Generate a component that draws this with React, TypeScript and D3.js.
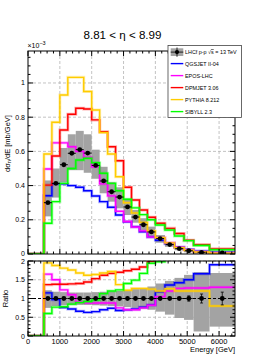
import React from "react"
import * as d3 from "d3"

// bin edges in GeV
const edges = [500, 750, 1000, 1250, 1500, 1750, 2000, 2250, 2500, 2750, 3000, 3250, 3500, 3750, 4000, 4300, 4600, 4900, 5200, 5700, 6500]

// LHCf data, x10^-3 mb/GeV
const dataVal = [0.30, 0.413, 0.522, 0.589, 0.61, 0.59, 0.518, 0.427, 0.364, 0.333, 0.275, 0.216, 0.171, 0.129, 0.09, 0.055, 0.031, 0.019, 0.010, 0.006]
const bandLo = [0.22, 0.33, 0.42, 0.49, 0.49, 0.475, 0.44, 0.355, 0.306, 0.267, 0.228, 0.183, 0.14, 0.10, 0.066, 0.042, 0.022, 0.010, 0.002, 0.0]
const bandHi = [0.43, 0.50, 0.62, 0.70, 0.72, 0.70, 0.61, 0.51, 0.42, 0.39, 0.323, 0.257, 0.209, 0.16, 0.111, 0.07, 0.042, 0.028, 0.016, 0.010]

// model predictions
const qgsjet = [0.341, 0.41, 0.41, 0.40, 0.39, 0.37, 0.339, 0.306, 0.273, 0.228, 0.189, 0.16, 0.13, 0.10, 0.08, 0.06, 0.04, 0.027, 0.017, 0.011]
const epos = [0.497, 0.65, 0.65, 0.627, 0.60, 0.565, 0.51, 0.41, 0.34, 0.25, 0.19, 0.158, 0.135, 0.10, 0.095, 0.066, 0.04, 0.025, 0.013, 0.007]
const dpmjet = [0.403, 0.573, 0.725, 0.817, 0.852, 0.848, 0.784, 0.715, 0.627, 0.545, 0.39, 0.316, 0.257, 0.215, 0.18, 0.15, 0.12, 0.08, 0.055, 0.03]
const pythia = [0.585, 0.77, 0.93, 1.033, 1.033, 0.95, 0.842, 0.71, 0.585, 0.452, 0.30, 0.24, 0.185, 0.135, 0.095, 0.065, 0.037, 0.022, 0.012, 0.004]
const sibyll = [0.18, 0.306, 0.413, 0.50, 0.55, 0.56, 0.534, 0.472, 0.413, 0.37, 0.32, 0.27, 0.23, 0.2, 0.17, 0.14, 0.105, 0.078, 0.05, 0.025]

// ratio panel (model / data)
const ratioLo = [0.75, 0.8, 0.82, 0.83, 0.83, 0.83, 0.82, 0.81, 0.8, 0.79, 0.77, 0.75, 0.73, 0.7, 0.65, 0.57, 0.48, 0.43, 0.12, 0.25]
const ratioHi = [1.22, 1.18, 1.17, 1.16, 1.16, 1.16, 1.17, 1.18, 1.19, 1.2, 1.22, 1.25, 1.28, 1.32, 1.4, 1.47, 1.55, 1.63, 1.7, 1.68]
const ratioErr = [0.01, 0.01, 0.01, 0.01, 0.01, 0.01, 0.01, 0.01, 0.01, 0.01, 0.01, 0.01, 0.01, 0.01, 0.02, 0.03, 0.05, 0.07, 0.12, 0.17]
const rQgs = [1.15, 0.97, 0.76, 0.72, 0.66, 0.63, 0.65, 0.7, 0.74, 0.68, 0.7, 0.72, 0.77, 0.83, 1.18, 1.36, 1.42, 1.5, 1.66, 1.9]
const rEpos = [1.65, 1.5, 1.23, 1.1, 0.9, 0.88, 0.88, 0.88, 0.88, 0.75, 0.7, 0.7, 0.75, 0.82, 1.05, 1.2, 1.27, 1.28, 1.28, 1.3]
const rDpm = [1.37, 1.38, 1.38, 1.39, 1.4, 1.44, 1.53, 1.62, 1.67, 1.7, 1.74, 1.78, 1.84, 1.99, 2.4, 2.6, 2.8, 3.0, 3.5, 4.0]
const rPyt = [1.95, 1.88, 1.81, 1.76, 1.68, 1.62, 1.64, 1.68, 1.72, 1.37, 1.22, 1.27, 1.27, 1.25, 1.2, 1.26, 1.2, 1.2, 1.2, 0.8]
const rSib = [0.6, 0.77, 0.78, 0.85, 0.89, 0.92, 0.96, 1.13, 1.2, 1.23, 1.4, 1.49, 1.67, 1.94, 1.98, 2.3, 2.6, 2.9, 3.5, 5]

const models = [
  { name: "QGSJET II-04", color: "#0000ff", upper: qgsjet, ratio: rQgs },
  { name: "EPOS-LHC", color: "#ff00ff", upper: epos, ratio: rEpos },
  { name: "DPMJET 3.06", color: "#ff0000", upper: dpmjet, ratio: rDpm },
  { name: "PYTHIA 8.212", color: "#ffcc00", upper: pythia, ratio: rPyt },
  { name: "SIBYLL 2.3", color: "#00ff00", upper: sibyll, ratio: rSib },
]

const xTicks = [0, 1000, 2000, 3000, 4000, 5000, 6000]
const upTicks = [0, 0.2, 0.4, 0.6, 0.8, 1]
const upLabels = ["0", "0.2", "0.4", "0.6", "0.8", "1"]
const loTicks = [0, 0.5, 1, 1.5, 2]
const loLabels = ["0", "0.5", "1", "1.5", "2"]

const W = 277, H = 358
const L = 28, R = 235
const upTop = 51, upBot = 254
const loTop = 261, loBot = 336
const font = "Liberation Sans, Arial, Helvetica, sans-serif"

const x = d3.scaleLinear().domain([0, 6500]).range([L, R])
const yUp = d3.scaleLinear().domain([0, 1.187]).range([upBot, upTop])
const yLo = d3.scaleLinear().domain([0, 2]).range([loBot, loTop])

const centers = edges.slice(0, -1).map((e, i) => (e + edges[i + 1]) / 2)
const halfW = edges.slice(0, -1).map((e, i) => Math.min((edges[i + 1] - e) / 2, 125))

function stepPath(vals: number[], y: d3.ScaleLinear<number, number>) {
  const pts: [number, number][] = [[0, 0]]
  vals.forEach((v, i) => pts.push([edges[i], v]))
  pts.push([edges[edges.length - 1], vals[vals.length - 1]])
  return d3.line<[number, number]>()
    .x(d => x(d[0]))
    .y(d => y(d[1]))
    .curve(d3.curveStepAfter)(pts) || ""
}

function Frame({ y, top, bot, yMajor, yMinorStep, yMax }: any) {
  const minX = d3.range(0, 6501, 200)
  const minY = d3.range(0, yMax + 1e-9, yMinorStep)
  return (
    <g stroke="#000" strokeWidth={1}>
      {minX.map(t => {
        const len = t % 1000 === 0 ? 5 : 2.5
        return <g key={"x" + t}>
          <line x1={x(t)} x2={x(t)} y1={bot} y2={bot - len} />
          <line x1={x(t)} x2={x(t)} y1={top} y2={top + len} />
        </g>
      })}
      {minY.map(t => {
        const isMajor = yMajor.some((m: number) => Math.abs(m - t) < 1e-6)
        const len = isMajor ? 5 : 2.5
        return <g key={"y" + t}>
          <line x1={L} x2={L + len} y1={y(t)} y2={y(t)} />
          <line x1={R} x2={R - len} y1={y(t)} y2={y(t)} />
        </g>
      })}
      <rect x={L} y={top} width={R - L} height={bot - top} fill="none" />
    </g>
  )
}

function Grid({ y, top, bot, yMajor }: any) {
  return (
    <g stroke="#b4b4b4" strokeWidth={0.8} strokeDasharray="3,2">
      {xTicks.slice(1).map(t => <line key={"gx" + t} x1={x(t)} x2={x(t)} y1={top} y2={bot} />)}
      {yMajor.slice(1).map((t: number) => <line key={"gy" + t} x1={L} x2={R} y1={y(t)} y2={y(t)} />)}
    </g>
  )
}

export default function App() {
  return (
    <svg width={W} height={H} style={{ position: "absolute", left: 0, top: 0, background: "#fff" }} fontFamily={font}>
      <defs>
        <clipPath id="clipUp"><rect x={L} y={upTop} width={R - L} height={upBot - upTop} /></clipPath>
        <clipPath id="clipLo"><rect x={L} y={loTop} width={R - L} height={loBot - loTop} /></clipPath>
      </defs>
      <rect width={W} height={H} fill="#fff" />

      {/* title */}
      <text x={122.5} y={39.3} fontSize={11.6} textAnchor="middle">8.81 &lt; η &lt; 8.99</text>

      {/* ---------- upper panel ---------- */}
      <Grid y={yUp} top={upTop} bot={upBot} yMajor={upTicks} />
      <g clipPath="url(#clipUp)">
        {centers.map((c, i) => (
          <rect key={"b" + i} x={x(edges[i])} width={x(edges[i + 1]) - x(edges[i])}
            y={yUp(bandHi[i])} height={yUp(bandLo[i]) - yUp(bandHi[i])} fill="#a3a3a3" />
        ))}
        {models.map(m => (
          <g key={m.name} fill="none">
            <path d={stepPath(m.upper, yUp)} stroke={m.color} strokeWidth={3} strokeOpacity={0.3} />
            <path d={stepPath(m.upper, yUp)} stroke={m.color} strokeWidth={1.4} />
          </g>
        ))}
        {centers.map((c, i) => (
          <g key={"d" + i}>
            <line x1={x(c - halfW[i])} x2={x(c + halfW[i])} y1={yUp(dataVal[i])} y2={yUp(dataVal[i])} stroke="#000" strokeWidth={1} />
            <circle cx={x(c)} cy={yUp(dataVal[i])} r={2.4} fill="#000" />
          </g>
        ))}
      </g>
      <Frame y={yUp} top={upTop} bot={upBot} yMajor={upTicks} yMinorStep={0.05} yMax={1.187} />
      {upTicks.map((t, i) => (
        <text key={"ul" + t} x={25} y={yUp(t) + (t === 0 ? 1.7 : 2.5)} fontSize={7} textAnchor="end">{upLabels[i]}</text>
      ))}
      <text x={27.5} y={48.3} fontSize={7}>×10<tspan dy={-3} fontSize={5.5}>−3</tspan></text>
      <text transform={`translate(9.5,${(upTop + upBot) / 2 - 9}) rotate(-90)`} fontSize={7.5} textAnchor="middle">
        dσ<tspan dy={1.8} fontSize={5.5}>n</tspan><tspan dy={-1.8}>/dE [mb/GeV]</tspan>
      </text>

      {/* legend */}
      <g>
        <rect x={168} y={45.5} width={73.5} height={72} fill="#fff" stroke="#444" strokeWidth={0.8} />
        <rect x={170.7} y={48.3} width={12.6} height={7.7} fill="#a3a3a3" />
        <line x1={170.7} x2={183.3} y1={52.1} y2={52.1} stroke="#000" strokeWidth={0.8} />
        <line x1={177} x2={177} y1={47.5} y2={56.8} stroke="#000" strokeWidth={0.8} />
        <circle cx={177} cy={52.1} r={2.1} fill="#000" />
        <text x={185} y={54} fontSize={5.4}>LHCf p-p √<tspan textDecoration="overline">s</tspan> = 13 TeV</text>
        {models.map((m, i) => {
          const yy = 63.6 + i * 12
          return <g key={"lg" + m.name}>
            <line x1={170.7} x2={183.3} y1={yy} y2={yy} stroke={m.color} strokeWidth={1.4} />
            <text x={185} y={yy + 1.9} fontSize={5.4}>{m.name}</text>
          </g>
        })}
      </g>

      {/* ---------- ratio panel ---------- */}
      <Grid y={yLo} top={loTop} bot={loBot} yMajor={loTicks} />
      <g clipPath="url(#clipLo)">
        {centers.map((c, i) => (
          <rect key={"rb" + i} x={x(edges[i])} width={x(edges[i + 1]) - x(edges[i])}
            y={yLo(ratioHi[i])} height={yLo(ratioLo[i]) - yLo(ratioHi[i])} fill="#a3a3a3" />
        ))}
        {models.map(m => (
          <g key={"r" + m.name} fill="none">
            <path d={stepPath(m.ratio, yLo)} stroke={m.color} strokeWidth={3} strokeOpacity={0.3} />
            <path d={stepPath(m.ratio, yLo)} stroke={m.color} strokeWidth={1.4} />
          </g>
        ))}
        <line x1={L} x2={R} y1={yLo(1)} y2={yLo(1)} stroke="#000" strokeWidth={1} strokeDasharray="3,2" />
        {centers.map((c, i) => (
          <g key={"rd" + i} stroke="#000" strokeWidth={0.8}>
            <line x1={x(c - halfW[i])} x2={x(c + halfW[i])} y1={yLo(1)} y2={yLo(1)} />
            <line x1={x(c)} x2={x(c)} y1={yLo(1 - ratioErr[i])} y2={yLo(1 + ratioErr[i])} />
            {ratioErr[i] > 0.05 && <>
              <line x1={x(c) - 1.5} x2={x(c) + 1.5} y1={yLo(1 - ratioErr[i])} y2={yLo(1 - ratioErr[i])} />
              <line x1={x(c) - 1.5} x2={x(c) + 1.5} y1={yLo(1 + ratioErr[i])} y2={yLo(1 + ratioErr[i])} />
            </>}
            <circle cx={x(c)} cy={yLo(1)} r={2.4} fill="#000" stroke="none" />
          </g>
        ))}
      </g>
      <Frame y={yLo} top={loTop} bot={loBot} yMajor={loTicks} yMinorStep={0.1} yMax={2} />
      {loTicks.map((t, i) => (
        <text key={"ll" + t} x={25} y={yLo(t) + (t === 2 ? 3.2 : 2.5)} fontSize={7} textAnchor="end">{loLabels[i]}</text>
      ))}
      {xTicks.map(t => (
        <text key={"xl" + t} x={x(t)} y={343.5} fontSize={7.5} textAnchor="middle">{t}</text>
      ))}
      <text x={R} y={351.8} fontSize={7.5} textAnchor="end">Energy [GeV]</text>
      <text transform={`translate(7.5,${(loTop + loBot) / 2}) rotate(-90)`} fontSize={7.5} textAnchor="middle">Ratio</text>
    </svg>
  )
}
